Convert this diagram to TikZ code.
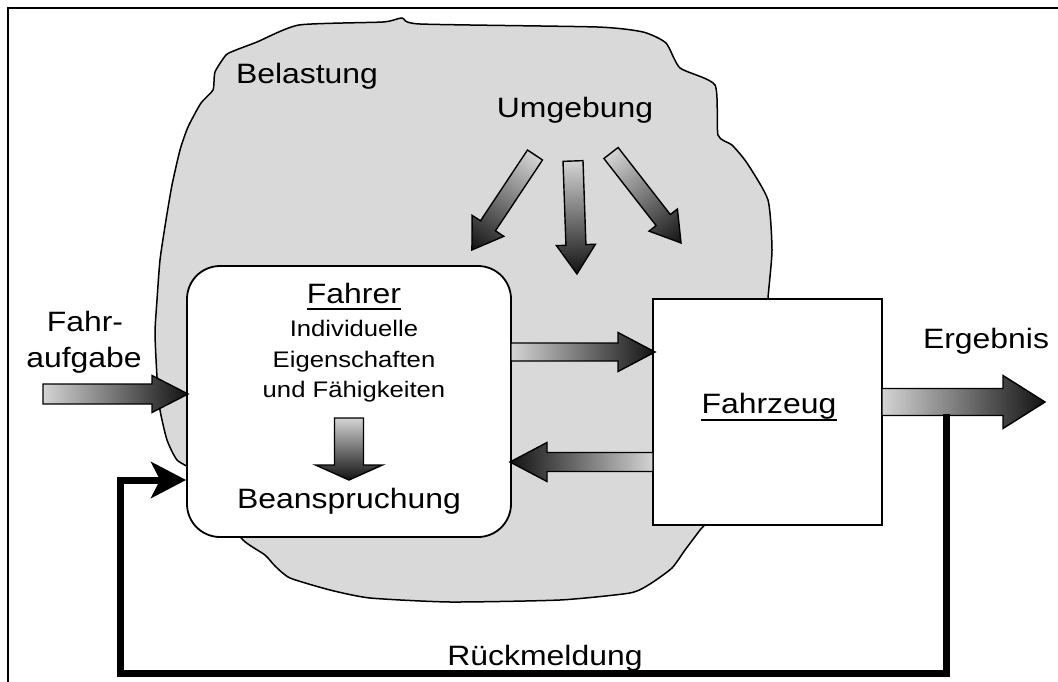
\documentclass[tikz,border=0pt]{standalone}
\usepackage{fontspec}
\setmainfont{Liberation Sans}[FakeStretch=1.14]
\usetikzlibrary{arrows.meta,calc}
\definecolor{blobgray}{RGB}{217,217,217}
\definecolor{alight}{RGB}{212,212,212}
\definecolor{adark}{RGB}{18,18,18}
\tikzset{
  blockarrow/.style={draw=black, line width=1.4pt, line join=miter, left color=alight, right color=adark},
  bigtxt/.style={font=\fontsize{28}{33}\selectfont, inner sep=0pt, anchor=base},
  smalltxt/.style={font=\fontsize{22.5}{27}\selectfont, inner sep=0pt, anchor=base},
  boxstyle/.style={draw=black, fill=white, line width=1.8pt, inner sep=0pt},
  blobstyle/.style={draw=black, fill=blobgray, line width=1.5pt},
  feedback/.style={line width=7pt, line join=miter, -{Stealth[length=35pt,width=36pt,inset=9pt]}},
  ulin/.style={line width=1.8pt}
}
% tail point, canvas angle, length, body half width, head half width, head length
\newcommand{\garrow}[6]{%
  \begin{scope}[transform canvas={shift={#1},rotate=#2}]
    \shade[blockarrow] (0,-#4) -- ({#3-#6},-#4) -- ({#3-#6},-#5) -- (#3,0) -- ({#3-#6},#5) -- ({#3-#6},#4) -- (0,#4) -- cycle;
  \end{scope}}
\begin{document}
\begin{tikzpicture}[x=1pt,y=-1pt]
\useasboundingbox (0,0) rectangle (1058,682);
% frame
\draw[line width=2pt] (8,682) -- (8,8) -- (1058,8);
% Belastung area
\draw[blobstyle] plot[smooth cycle, tension=0.35] coordinates {
 (195,472) (177,460) (167,440) (160,410) (157,377) (155,333) (157,300) (160,260) (166,220) (172,185) (180,150) (188,127) (201,103) (213,90) (215,72) (226,55) (236,50) (257,42) (299,25) (383,22) (402,18) (420,24) (597,27) (643,32) (666,43) (680,68) (715,85) (718,135) (732,145) (747,163) (768,200) (772,250) (768,298) (760,400) (710,515) (700,530) (685,550) (672,568) (650,584) (630,593) (560,600) (450,602) (370,598) (330,590) (290,578) (275,566) (265,555) (243,540) (215,505)};
% boxes
\node[boxstyle, rounded corners=33pt, minimum width=324pt, minimum height=271pt] (fahrer) at (349,401.5) {};
\node[boxstyle, minimum width=229pt, minimum height=226pt] (fahrzeug) at (767.5,412) {};
% texts
\node[bigtxt] (belastung) at (307,84) {Belastung};
\node[bigtxt] (umgebung) at (575,118) {Umgebung};
\node[bigtxt] (fahrertxt) at (354,303) {Fahrer};
\node[smalltxt] (ind) at (354,336) {Individuelle};
\node[smalltxt] (eig) at (354,367) {Eigenschaften};
\node[smalltxt] (faeh) at (354,397) {und Fähigkeiten};
\node[bigtxt] (beans) at (349,508) {Beanspruchung};
\node[bigtxt] (fahrzeugtxt) at (769,413) {Fahrzeug};
\node[bigtxt] (ergebnis) at (986,348) {Ergebnis};
\node[bigtxt] (fahr) at (85,331) {Fahr-};
\node[bigtxt] (aufgabe) at (84,367) {aufgabe};
\node[bigtxt] (rueck) at (545,665) {Rückmeldung};
% underlines
\draw[ulin] ([yshift=-6pt]fahrertxt.base west) -- ([yshift=-6pt]fahrertxt.base east);
\draw[ulin] ([yshift=-7pt]fahrzeugtxt.base west) -- ([yshift=-7pt]fahrzeugtxt.base east);
% gradient block arrows
\garrow{(43,394)}{0}{145}{10}{18.5}{36}
\garrow{(511,352)}{0}{144}{9}{19.5}{37}
\garrow{(653,462)}{180}{143}{9.5}{19.5}{37}
\garrow{(882,402)}{0}{163}{13.5}{26.5}{42}
\garrow{(349,418)}{-90}{62}{14.5}{33.5}{15}
\garrow{(535,155)}{-123.6}{114}{9}{19}{29}
\garrow{(573,161)}{-88}{113}{10}{19.5}{29}
\garrow{(611,153)}{-52.1}{114}{9}{18}{29}
% feedback loop
\coordinate (fbstart) at (946,414);
\coordinate (fbbottom) at (120,673);
\coordinate (fbturn) at (120,480);
\draw[feedback] (fbstart) |- (fbbottom) -- (fbturn) -- (fahrer.west |- fbturn);
\end{tikzpicture}
\end{document}
